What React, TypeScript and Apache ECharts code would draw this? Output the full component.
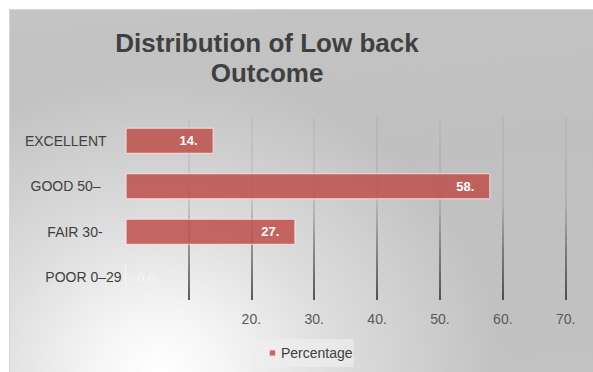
import React, { useEffect, useRef } from "react";
import * as echarts from "echarts";

// Outcome categories, top to bottom
const categories = ["EXCELLENT", "GOOD 50–", "FAIR 30-", "POOR 0–29"];
// Share of patients per outcome (%)
const percentages = [14, 58, 27, 0];
// Value axis range
const axisMin = 0;
const axisMax = 70;
const axisStep = 10;
const seriesName = "Percentage";

// per-category label nudges (right padding in px)
const labelPadRight = [15, 21, 19, 0];

const FONT = "'Liberation Sans', Arial, sans-serif";

export default function App() {
  const ref = useRef<HTMLDivElement>(null);

  useEffect(() => {
    if (!ref.current) return;
    const chart = echarts.init(ref.current, undefined, { renderer: "svg" });

    const rich: Record<string, any> = {};
    categories.forEach((_, i) => {
      rich["c" + i] = {
        fontFamily: FONT,
        fontSize: 14,
        color: "#404040",
        padding: [0, labelPadRight[i], 0, 0],
      };
    });

    const gridTop = 108;
    const gridBottom = 72;
    const height = 362;

    chart.setOption({
      animation: false,
      backgroundColor: "transparent",
      title: {
        text: "Distribution of Low back\nOutcome",
        left: 252,
        top: 13,
        textAlign: "center",
        textStyle: {
          fontFamily: FONT,
          fontSize: 26,
          fontWeight: "bold",
          color: "#404040",
          lineHeight: 30,
        },
      },
      legend: {
        data: [seriesName],
        left: 243,
        top: 329,
        padding: [7, 1, 7, 15],
        backgroundColor: "rgba(238,238,238,0.7)",
        itemWidth: 7,
        itemHeight: 7,
        icon: "rect",
        textStyle: { fontFamily: FONT, fontSize: 14, color: "#404040" },
      },
      grid: {
        left: 115.6,
        right: 27.3,
        top: gridTop,
        bottom: gridBottom,
        containLabel: false,
      },
      xAxis: {
        type: "value",
        min: axisMin,
        max: axisMax,
        interval: axisStep,
        axisLine: { show: false },
        axisTick: { show: false },
        axisLabel: {
          margin: 12,
          fontFamily: FONT,
          fontSize: 14,
          color: "#595959",
          formatter: (v: number) => (v < 20 ? "" : `${v}.`),
        },
        splitLine: {
          show: true,
          showMinLine: false,
          lineStyle: {
            width: 1.5,
            color: new echarts.graphic.LinearGradient(
              0,
              gridTop,
              0,
              height - gridBottom,
              [
                { offset: 0, color: "rgba(60,60,60,0.08)" },
                { offset: 0.45, color: "rgba(60,60,60,0.15)" },
                { offset: 0.7, color: "rgba(40,40,40,0.55)" },
                { offset: 1, color: "rgba(20,20,20,0.9)" },
              ],
              true
            ),
          },
        },
      },
      yAxis: {
        type: "category",
        data: categories,
        inverse: true,
        axisLine: { show: false },
        axisTick: { show: false },
        axisLabel: {
          margin: 4,
          align: "right",
          formatter: (value: string, index: number) => `{c${index}|${value}}`,
          rich,
        },
      },
      series: [
        {
          name: seriesName,
          type: "bar",
          barWidth: 26,
          itemStyle: {
            color: "rgba(192,80,77,0.86)",
            borderColor: "rgba(255,240,240,0.75)",
            borderWidth: 1,
          },
          label: {
            show: true,
            position: "insideRight",
            distance: 16,
            fontFamily: FONT,
            fontSize: 13,
            fontWeight: "bold",
            color: "#ffffff",
            formatter: (p: any) => (p.value === 0 ? "0.0" : `${p.value}.`),
          },
          data: percentages.map((v) =>
            v === 0
              ? {
                  value: v,
                  label: {
                    position: "right",
                    distance: 11,
                    fontWeight: "normal",
                    color: "rgba(255,255,255,0.6)",
                  },
                }
              : { value: v }
          ),
        },
      ],
    });

    return () => chart.dispose();
  }, []);

  return (
    <div
      style={{
        position: "absolute",
        left: 9,
        top: 9,
        borderTop: "1px solid #d6d6d6",
        borderLeft: "1px solid #d6d6d6",
        background:
          "radial-gradient(ellipse 340px 300px at 150px 362px, #ffffff 0%, #f6f6f6 18%, #dedede 50%, rgba(200,200,200,0) 100%), linear-gradient(175deg, #c4c4c4 0%, #c0c0c0 40%, #c2c2c2 100%)",
      }}
    >
      <div ref={ref} style={{ width: 583, height: 362 }} />
    </div>
  );
}
